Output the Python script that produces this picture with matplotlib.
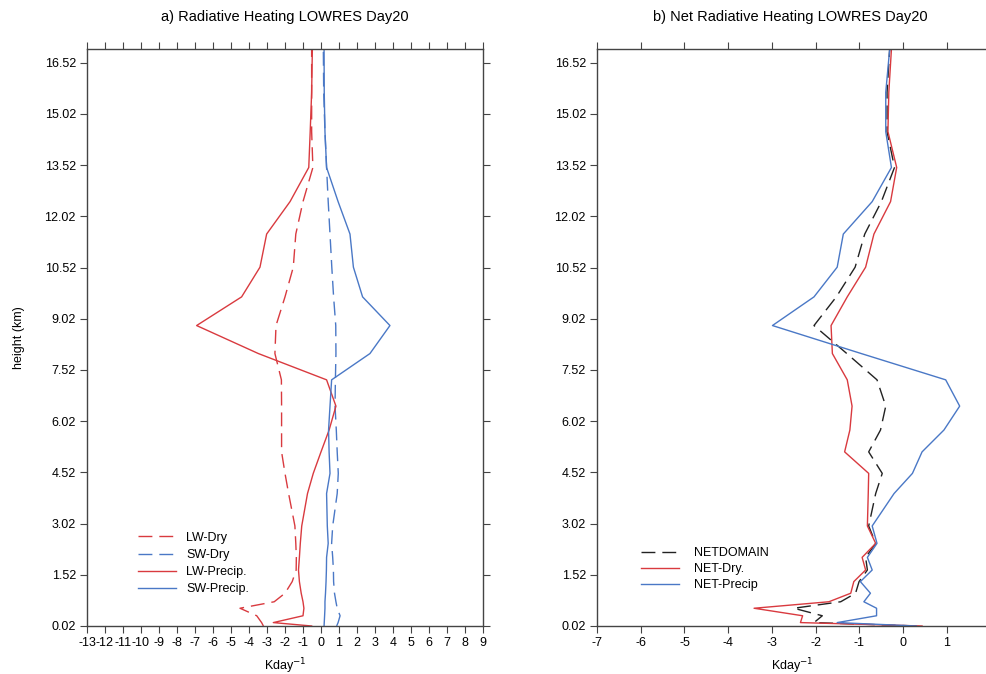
import matplotlib.pyplot as plt
import numpy as np

plt.rcParams['font.family'] = ['Liberation Sans', 'DejaVu Sans']
plt.rcParams['axes.unicode_minus'] = False

# model levels (km)
altura = [0.02, 0.12, 0.32, 0.54, 0.73, 0.98, 1.32, 1.66, 2.03, 2.44, 2.95, 3.9, 4.49,
          5.12, 5.76, 6.46, 7.23, 8.0, 8.82, 9.66, 10.53, 11.5, 12.45, 13.45, 14.5,
          15.65, 16.92]

# painel a) aquecimento radiativo (K/day)
lw_dry = [-3.2, -3.3, -3.57, -4.5, -2.6, -2.0, -1.6, -1.38, -1.37, -1.4, -1.45, -1.8, -2.0,
          -2.19, -2.19, -2.19, -2.2, -2.56, -2.5, -2.0, -1.54, -1.4, -1.0, -0.45, -0.52,
          -0.52, -0.52]
sw_dry = [0.87, 0.95, 1.06, 0.9, 0.83, 0.75, 0.7, 0.69, 0.65, 0.59, 0.65, 0.9, 0.96,
          0.9, 0.85, 0.78, 0.8, 0.83, 0.82, 0.7, 0.6, 0.5, 0.4, 0.31, 0.22, 0.15, 0.13]
lw_precip = [-0.52, -2.65, -1.0, -0.95, -1.0, -1.1, -1.2, -1.25, -1.2, -1.15, -1.07, -0.75,
             -0.43, 0.0, 0.45, 0.83, 0.31, -3.48, -6.91, -4.41, -3.39, -3.02, -1.72, -0.68,
             -0.6, -0.52, -0.48]
sw_precip = [0.17, 0.18, 0.2, 0.22, 0.22, 0.25, 0.28, 0.3, 0.31, 0.4, 0.35, 0.31, 0.5,
             0.45, 0.42, 0.5, 0.59, 2.72, 3.83, 2.31, 1.8, 1.61, 0.95, 0.31, 0.22, 0.18, 0.17]

# painel b) aquecimento radiativo liquido (K/day)
net_domain = [0.3, -2.04, -1.85, -2.5, -1.43, -1.09, -1.01, -0.82, -0.86, -0.63, -0.79,
              -0.63, -0.48, -0.79, -0.52, -0.40, -0.6, -1.29, -2.04, -1.53, -1.1, -0.88,
              -0.5, -0.2, -0.37, -0.37, -0.31]
net_dry = [0.43, -2.35, -2.3, -3.41, -1.70, -1.2, -1.13, -0.86, -0.94, -0.63, -0.82, -0.8,
           -0.79, -1.34, -1.22, -1.17, -1.28, -1.62, -1.65, -1.28, -0.86, -0.67, -0.29,
           -0.15, -0.35, -0.33, -0.27]
net_precip = [0.3, -1.51, -0.61, -0.61, -0.9, -0.75, -0.98, -0.71, -0.82, -0.6, -0.71,
              -0.21, 0.21, 0.43, 0.93, 1.29, 0.97, -0.96, -2.99, -2.04, -1.51, -1.37, -0.71,
              -0.27, -0.40, -0.40, -0.31]

yticks = [0.02 + 1.5 * i for i in range(12)]

vermelho = '#d93a3f'
azul = '#4a78c6'
tracejado = (0, (10, 5))

fig = plt.figure(figsize=(9.87, 6.74), dpi=100)
ax1 = fig.add_axes([87 / 987, 48 / 674, 396 / 987, 577 / 674])
ax2 = fig.add_axes([597 / 987, 48 / 674, 402 / 987, 577 / 674])

ax1.plot(lw_dry, altura, color=vermelho, lw=1, linestyle=tracejado, label='LW-Dry')
ax1.plot(sw_dry, altura, color=azul, lw=1, linestyle=tracejado, label='SW-Dry')
ax1.plot(lw_precip, altura, color=vermelho, lw=1, label='LW-Precip.')
ax1.plot(sw_precip, altura, color=azul, lw=1, label='SW-Precip.')

ax2.plot(net_domain, altura, color='#222222', lw=1, linestyle=tracejado, label='NETDOMAIN')
ax2.plot(net_dry, altura, color=vermelho, lw=1, label='NET-Dry.')
ax2.plot(net_precip, altura, color=azul, lw=1, label='NET-Precip')

ax1.set_xlim(-13, 9)
ax1.set_xticks(range(-13, 10))
ax2.set_xlim(-7, -7 + 402 / 43.75)
ax2.set_xticks(range(-7, 2))

for ax in (ax1, ax2):
    ax.set_ylim(0.02, 16.92)
    ax.set_yticks(yticks)
    ax.set_yticklabels([f"{v:.2f}" for v in yticks])
    ax.tick_params(direction='out', length=5, width=0.8, color='#444444',
                   labelsize=9, top=True, right=True, pad=3)
    for s in ax.spines.values():
        s.set_color('#444444')
        s.set_linewidth(1)

ax1.set_xlabel('Kday$^{-1}$', fontsize=9, labelpad=5)
ax2.set_xlabel('Kday$^{-1}$', fontsize=9, labelpad=5, x=0.485)
ax1.set_ylabel('height (km)', fontsize=9, labelpad=14)
ax1.set_title('a) Radiative Heating LOWRES Day20', fontsize=10.5, pad=20)
ax2.set_title('b) Net Radiative Heating LOWRES Day20', fontsize=10.5, pad=20, x=0.48)

ax1.legend(loc='lower left', bbox_to_anchor=(0.13, 0.053), frameon=False, fontsize=9,
           handlelength=3.0, handletextpad=0.8, labelspacing=0.42, borderpad=0,
           borderaxespad=0)
ax2.legend(loc='lower left', bbox_to_anchor=(0.11, 0.06), frameon=False, fontsize=9,
           handlelength=3.0, handletextpad=1.2, labelspacing=0.32, borderpad=0,
           borderaxespad=0)

plt.savefig('out.png', dpi=100)
